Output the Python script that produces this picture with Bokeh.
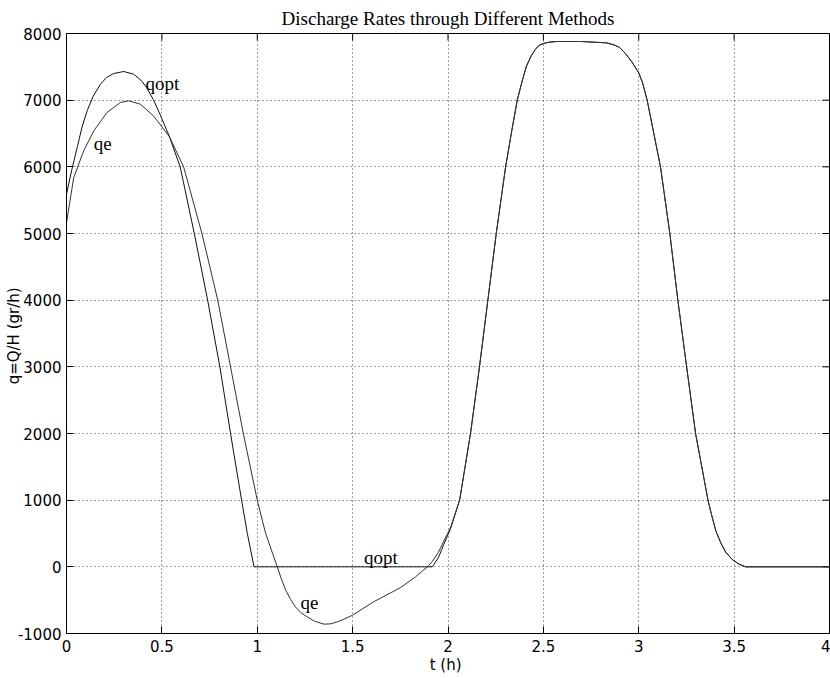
import math
from bokeh.plotting import figure
from bokeh.models import ColumnDataSource, FixedTicker
from bokeh.core.properties import value
from bokeh.embed import file_html
from bokeh.resources import INLINE

# ---- data ----
t_opt = [0.0, 0.028, 0.056, 0.08, 0.108, 0.14, 0.178, 0.21, 0.247, 0.30, 0.352,
         0.39, 0.42, 0.455, 0.49, 0.54, 0.596, 0.670, 0.740, 0.804, 0.860,
         0.918, 0.948, 0.983, 1.918, 1.95, 1.977, 2.012, 2.061, 2.118, 2.165,
         2.209, 2.253, 2.302, 2.333, 2.363, 2.39, 2.41, 2.435, 2.46, 2.48,
         2.50, 2.53, 2.57, 2.70, 2.83, 2.87, 2.90, 2.93, 2.965, 3.0, 3.02,
         3.044, 3.114, 3.163, 3.205, 3.251, 3.298, 3.363, 3.38, 3.404, 3.43,
         3.456, 3.49, 3.526, 3.56, 4.0]
q_opt = [5590, 5960, 6290, 6580, 6840, 7060, 7240, 7340, 7400, 7430, 7390,
         7300, 7190, 7010, 6790, 6450, 6000, 5000, 4000, 3000, 2000,
         1000, 500, 0, 0, 140, 330, 560, 1000, 2000, 3000,
         4000, 5000, 6000, 6520, 7000, 7300, 7500, 7660, 7770, 7825,
         7850, 7870, 7880, 7880, 7860, 7830, 7790, 7700, 7570, 7410, 7260,
         7000, 6000, 5000, 4000, 3000, 2000, 1000, 800, 540, 360,
         220, 110, 40, 0, 0]

t_e = [0.0, 0.038, 0.09, 0.143, 0.212, 0.282, 0.326, 0.387, 0.456, 0.54, 0.614,
       0.71, 0.793, 0.860, 0.927, 1.0, 1.044, 1.105, 1.125, 1.149, 1.175, 1.20,
       1.23, 1.262, 1.30, 1.35, 1.385, 1.42, 1.45, 1.5, 1.61, 1.752, 1.83,
       1.892, 1.918, 1.95, 1.977, 2.012, 2.061, 2.118, 2.165, 2.209, 2.253,
       2.302, 2.333, 2.363, 2.39, 2.41, 2.435, 2.46, 2.48, 2.50, 2.53, 2.57,
       2.70, 2.83, 2.87, 2.90, 2.93, 2.965, 3.0, 3.02, 3.044, 3.114, 3.163,
       3.205, 3.251, 3.298, 3.363, 3.38, 3.404, 3.43, 3.456, 3.49, 3.526,
       3.56, 4.0]
q_e = [5165, 5840, 6240, 6540, 6815, 6965, 6990, 6940, 6765, 6450, 6000,
       5000, 4000, 3000, 2000, 1000, 500, 0, -170, -350, -490, -600,
       -690, -750, -815, -860, -855, -825, -790, -725, -525, -310, -150,
       0, 80, 220, 380, 580, 1000, 2000, 3000, 4000, 5000,
       6000, 6520, 7000, 7300, 7500, 7660, 7770, 7825, 7850, 7870, 7880,
       7880, 7860, 7830, 7790, 7700, 7570, 7410, 7260, 7000, 6000, 5000,
       4000, 3000, 2000, 1000, 800, 540, 360, 220, 110, 40,
       0, 0]

x_ticks = [0, 0.5, 1, 1.5, 2, 2.5, 3, 3.5, 4]
x_tick_labels = ["0", "0.5", "1", "1.5", "2", "2.5", "3", "3.5", "4"]
y_ticks = [-1000, 0, 1000, 2000, 3000, 4000, 5000, 6000, 7000, 8000]
y_tick_labels = ["-1000", "0", "1000", "2000", "3000", "4000", "5000", "6000", "7000", "8000"]

label_text = ["qopt", "qe", "qopt", "qe"]
label_t = [0.414, 0.143, 1.559, 1.227]
label_q = [7255, 6350, 145, -530]

title_text = "Discharge Rates through Different Methods"
x_label = "t  (h)"
y_label = "q=Q/H  (gr/h)"

SANS = "DejaVu Sans"
SERIF = "Liberation Serif"

x_lo, x_hi = x_ticks[0], x_ticks[-1]
y_lo, y_hi = y_ticks[0], y_ticks[-1]

p = figure(width=830, height=678, x_range=(x_lo, x_hi), y_range=(y_lo, y_hi),
           output_backend="svg", toolbar_location=None,
           min_border_left=66, min_border_right=1, min_border_top=33,
           min_border_bottom=45, background_fill_color="white",
           border_fill_color="white")

p.title.text = title_text
p.title.text_font = SERIF
p.title.text_font_style = "normal"
p.title.text_font_size = "19px"
p.title.align = "center"
p.title.text_color = "black"
p.title.standoff = 9

p.outline_line_color = "black"
p.outline_line_width = 1

for ax, ticks, labels in ((p.xaxis[0], x_ticks, x_tick_labels), (p.yaxis[0], y_ticks, y_tick_labels)):
    ax.ticker = FixedTicker(ticks=ticks)
    ax.major_label_overrides = {t: l for t, l in zip(ticks, labels)}
    ax.major_tick_in = 7
    ax.major_tick_out = 0
    ax.minor_tick_line_color = None
    ax.major_tick_line_color = "black"
    ax.axis_line_color = "black"
    ax.major_label_text_font = SANS
    ax.major_label_text_font_size = "15px"
    ax.major_label_text_color = "black"
    ax.axis_label_text_font = SANS
    ax.axis_label_text_font_size = "15px"
    ax.axis_label_text_font_style = "normal"
    ax.axis_label_text_color = "black"

p.xaxis.axis_label = x_label
p.xaxis.major_label_standoff = 6
p.xaxis.axis_label_standoff = 1
p.yaxis.axis_label = y_label
p.yaxis.major_label_standoff = 5
p.yaxis.axis_label_standoff = -8

p.grid.grid_line_color = "black"
p.grid.grid_line_alpha = 0.75
p.grid.grid_line_dash = "1 3"
p.grid.grid_line_width = 1
p.xgrid.ticker = FixedTicker(ticks=x_ticks)
p.ygrid.ticker = FixedTicker(ticks=y_ticks)

# inward ticks on the top and right edges of the box (half of each dash is clipped)
p.scatter(x=x_ticks, y=[y_hi] * len(x_ticks), marker="dash", angle=math.pi / 2,
          size=14, line_color="black", line_width=1)
p.scatter(x=[x_hi] * len(y_ticks), y=y_ticks, marker="dash", angle=0,
          size=14, line_color="black", line_width=1)

p.line(t_opt, q_opt, line_color="#111111", line_width=1)
p.line(t_e, q_e, line_color="#333333", line_width=1)

src = ColumnDataSource(dict(x=label_t, y=label_q, text=label_text))
p.text(x="x", y="y", text="text", source=src, text_font=value(SERIF),
       text_font_size="19px", text_color="black", text_align="left",
       text_baseline="alphabetic")

open("out.html", "w").write(file_html(p, INLINE))
